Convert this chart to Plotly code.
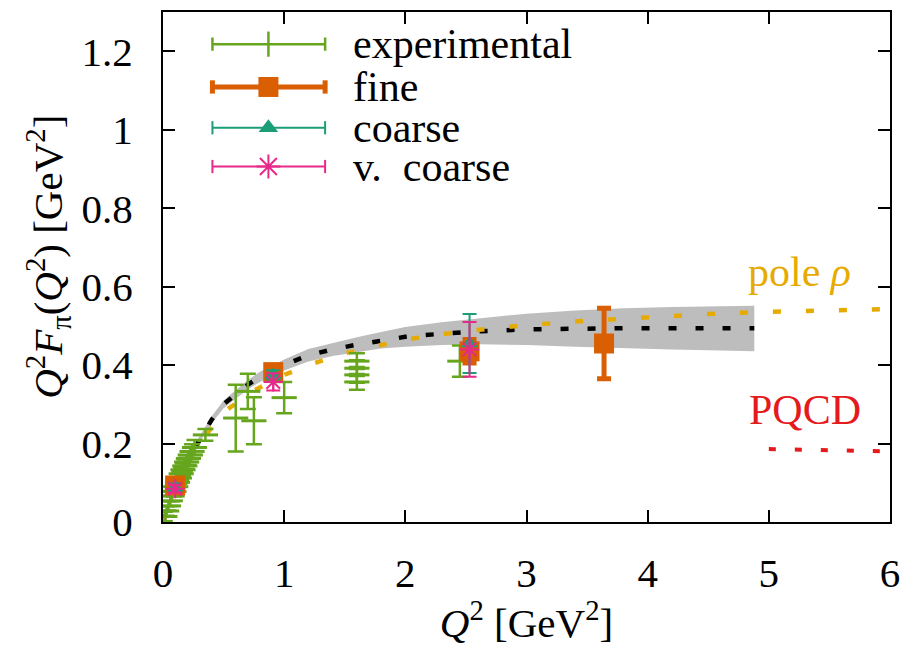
import plotly.graph_objects as go

# ---------------- data ----------------
# lattice fit band (grey) with central curve (black dashed)
band_q = [0.0, 0.1, 0.2, 0.3, 0.4, 0.5, 0.6, 0.7, 0.8, 0.9, 1.0, 1.2, 1.4, 1.6, 1.8,
          2.0, 2.3, 2.6, 3.0, 3.4, 3.8, 4.2, 4.6, 4.88]
band_mid = [0.0, 0.085, 0.155, 0.21, 0.26, 0.30, 0.325, 0.35, 0.37, 0.385, 0.40, 0.425,
            0.44, 0.452, 0.463, 0.472, 0.48, 0.486, 0.491, 0.493, 0.494, 0.494, 0.494, 0.494]
band_hi = [0.0, 0.09, 0.162, 0.218, 0.269, 0.31, 0.336, 0.362, 0.383, 0.398, 0.414, 0.441,
           0.457, 0.471, 0.484, 0.497, 0.509, 0.519, 0.531, 0.539, 0.545, 0.548, 0.55, 0.551]
band_lo = [0.0, 0.08, 0.148, 0.202, 0.251, 0.29, 0.314, 0.338, 0.357, 0.372, 0.386, 0.409,
           0.423, 0.433, 0.442, 0.447, 0.451, 0.453, 0.451, 0.447, 0.443, 0.44, 0.437, 0.435]

# monopole (rho pole) curve
pole_q = [0.0, 0.1, 0.2, 0.35, 0.5, 0.75, 1.0, 1.25, 1.5, 2.0, 2.5, 3.0, 3.5, 4.0, 4.5,
          5.0, 5.5, 6.0]
pole_f = [0.0, 0.085, 0.15, 0.22, 0.28, 0.335, 0.375, 0.405, 0.43, 0.465, 0.487, 0.502,
          0.513, 0.522, 0.53, 0.536, 0.54, 0.543]

# perturbative QCD
pqcd_q = [5.0, 5.5, 6.0]
pqcd_f = [0.186, 0.183, 0.18]

# experimental data
exp_q = [0.015, 0.03, 0.045, 0.06, 0.075, 0.09, 0.105, 0.12, 0.135, 0.15, 0.165, 0.18,
         0.195, 0.21, 0.225, 0.24, 0.26, 0.35, 0.60, 0.70, 0.75, 1.00, 1.60, 1.60,
         1.60, 1.60, 2.45]
exp_f = [0.014, 0.028, 0.041, 0.054, 0.066, 0.078, 0.090, 0.101, 0.112, 0.123, 0.133,
         0.143, 0.153, 0.162, 0.171, 0.180, 0.190, 0.222, 0.265, 0.333, 0.258, 0.317,
         0.410, 0.392, 0.375, 0.357, 0.410]
exp_err = [0.012, 0.012, 0.012, 0.013, 0.013, 0.013, 0.014, 0.014, 0.015, 0.015, 0.016,
           0.016, 0.017, 0.017, 0.018, 0.018, 0.019, 0.015, 0.085, 0.045, 0.06, 0.04,
           0.02, 0.02, 0.02, 0.02, 0.04]

# lattice results
fine_q = [0.10, 0.91, 2.53, 3.64]
fine_f = [0.093, 0.382, 0.435, 0.455]
fine_err = [0.01, 0.012, 0.03, 0.09]

coarse_q = [0.10, 0.91, 2.53]
coarse_f = [0.088, 0.375, 0.455]
coarse_err = [0.01, 0.012, 0.075]

vcoarse_q = [0.10, 0.91, 2.53]
vcoarse_f = [0.085, 0.357, 0.44]
vcoarse_err = [0.01, 0.022, 0.07]

legend_names = ["experimental", "fine", "coarse", "v.  coarse"]
x_ticks = [0, 1, 2, 3, 4, 5, 6]
y_ticks = [0, 0.2, 0.4, 0.6, 0.8, 1.0, 1.2]
y_ticktext = ["0", "0.2", "0.4", "0.6", "0.8", "1", "1.2"]

# ---------------- style ----------------
C_EXP = "#66a61e"
C_FINE = "#d95f02"
C_COARSE = "#1b9e77"
C_VC = "#e7298a"
C_POLE = "#e6ab02"
C_PQCD = "#e41a1c"
C_BAND = "#bdbdbd"
FONT = "Liberation Serif"
FS = 41
FS_LEG = 42

fig = go.Figure()

# band
fig.add_trace(go.Scatter(x=band_q, y=band_hi, mode="lines", line=dict(width=0, color=C_BAND),
                         showlegend=False, hoverinfo="skip"))
fig.add_trace(go.Scatter(x=band_q, y=band_lo, mode="lines", line=dict(width=0, color=C_BAND),
                         fill="tonexty", fillcolor=C_BAND, showlegend=False, hoverinfo="skip"))
# central curve
fig.add_trace(go.Scatter(x=band_q, y=band_mid, mode="lines",
                         line=dict(color="black", width=4.5, dash="8px,19px"), showlegend=False))
# pole
fig.add_trace(go.Scatter(x=pole_q, y=pole_f, mode="lines",
                         line=dict(color=C_POLE, width=4.5, dash="8px,25px"), showlegend=False))
# pqcd
fig.add_trace(go.Scatter(x=pqcd_q, y=pqcd_f, mode="lines",
                         line=dict(color=C_PQCD, width=4, dash="7px,19px"), showlegend=False))

# experimental
fig.add_trace(go.Scatter(x=exp_q, y=exp_f, mode="markers",
                         marker=dict(symbol="line-ew", size=18, line=dict(width=3, color=C_EXP), color=C_EXP),
                         error_y=dict(type="data", array=exp_err, color=C_EXP, thickness=2.5, width=8),
                         showlegend=False))
# fine
fig.add_trace(go.Scatter(x=fine_q, y=fine_f, mode="markers",
                         marker=dict(symbol="square", size=20, color=C_FINE),
                         error_y=dict(type="data", array=fine_err, color=C_FINE, thickness=5, width=7),
                         showlegend=False))
# coarse
fig.add_trace(go.Scatter(x=coarse_q, y=coarse_f, mode="markers",
                         marker=dict(symbol="triangle-up", size=15, color=C_COARSE),
                         error_y=dict(type="data", array=coarse_err, color=C_COARSE, thickness=2, width=7),
                         showlegend=False))
# very coarse
fig.add_trace(go.Scatter(x=vcoarse_q, y=vcoarse_f, mode="markers",
                         marker=dict(symbol="asterisk", size=16, line=dict(width=2, color=C_VC), color=C_VC),
                         error_y=dict(type="data", array=vcoarse_err, color=C_VC, thickness=2, width=7),
                         showlegend=False))

# ---------------- custom legend (overlay axes in 0..1 units of the plot area) ----------------
leg_rows = [0.937, 0.853, 0.773, 0.697]
leg_x0, leg_x1, leg_xm, leg_text = 0.068, 0.223, 0.145, 0.258
leg_styles = [
    dict(color=C_EXP, width=2.5, sym="line-ns", size=18, lw=2.5),
    dict(color=C_FINE, width=5, sym="square", size=20, lw=0),
    dict(color=C_COARSE, width=2, sym="triangle-up", size=17, lw=0),
    dict(color=C_VC, width=2, sym="asterisk", size=20, lw=2),
]
for yy, st, name in zip(leg_rows, leg_styles, legend_names):
    fig.add_shape(type="line", xref="paper", yref="paper", x0=leg_x0, x1=leg_x1, y0=yy, y1=yy,
                  line=dict(color=st["color"], width=st["width"]))
    for xc in (leg_x0, leg_x1):
        fig.add_shape(type="line", xref="paper", yref="paper", x0=xc, x1=xc, y0=yy - 0.013,
                      y1=yy + 0.013, line=dict(color=st["color"], width=st["width"]))
    fig.add_trace(go.Scatter(x=[leg_xm], y=[yy], xaxis="x2", yaxis="y2", mode="markers",
                             marker=dict(symbol=st["sym"], size=st["size"], color=st["color"],
                                         line=dict(width=st["lw"], color=st["color"])),
                             showlegend=False, hoverinfo="skip"))
    fig.add_annotation(x=leg_text, y=yy, xref="paper", yref="paper", text=name, showarrow=False,
                       xanchor="left", yanchor="middle", font=dict(family=FONT, size=FS_LEG, color="black"))

# curve labels
fig.add_annotation(x=5.25, y=0.638, text="pole <i>ρ</i>", showarrow=False,
                   font=dict(family=FONT, size=FS_LEG, color=C_POLE))
fig.add_annotation(x=5.3, y=0.285, text="PQCD", showarrow=False,
                   font=dict(family=FONT, size=FS_LEG, color=C_PQCD))

axis_common = dict(showgrid=False, zeroline=False, showline=True, linecolor="black", linewidth=2,
                   mirror="allticks", ticks="inside", ticklen=12, tickwidth=1.5, tickcolor="black",
                   tickfont=dict(family=FONT, size=FS, color="black"))

fig.update_layout(
    width=910, height=646,
    margin=dict(l=163, r=14, t=10, b=124),
    plot_bgcolor="white", paper_bgcolor="white",
    showlegend=False,
    xaxis=dict(range=[0, 6], tickvals=x_ticks, ticklabelstandoff=14,
               title=dict(text="<i>Q</i><sup>2</sup> [GeV<sup>2</sup>]",
                          font=dict(family=FONT, size=FS, color="black"), standoff=2),
               **axis_common),
    yaxis=dict(range=[0, 1.3], tickvals=y_ticks, ticktext=y_ticktext, ticklabelstandoff=20,
               title=dict(text="&nbsp;&nbsp;<i>Q</i><sup>2</sup><i>F</i><sub>π</sub>(<i>Q</i><sup>2</sup>) [GeV<sup>2</sup>]",
                          font=dict(family=FONT, size=FS, color="black"), standoff=6),
               **axis_common),
    xaxis2=dict(range=[0, 1], overlaying="x", visible=False, fixedrange=True),
    yaxis2=dict(range=[0, 1], overlaying="y", visible=False, fixedrange=True),
)

fig.write_html("out.html")
